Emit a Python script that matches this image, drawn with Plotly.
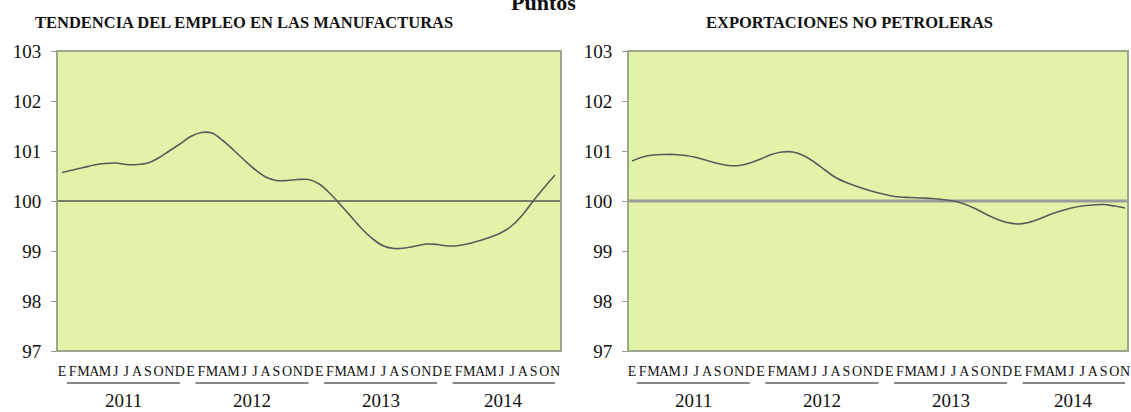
import plotly.graph_objects as go

# ---- data ----
months = list(range(47))  # Jan 2011 .. Nov 2014
month_letters = (list("EFMAMJJASOND") * 4)[:47]
years = ["2011", "2012", "2013", "2014"]
year_start = [0, 12, 24, 36]
year_end = [11, 23, 35, 46]

empleo = [100.57, 100.62, 100.67, 100.72, 100.75, 100.76, 100.73, 100.73, 100.76, 100.86,
          101.00, 101.14, 101.29, 101.37, 101.36, 101.21, 101.02, 100.82, 100.63, 100.48,
          100.41, 100.41, 100.43, 100.43, 100.34, 100.15, 99.92, 99.68, 99.44, 99.24,
          99.10, 99.05, 99.06, 99.10, 99.14, 99.13, 99.10, 99.11, 99.15, 99.21,
          99.28, 99.37, 99.51, 99.73, 100.01, 100.27, 100.52]

exportaciones = [100.80, 100.88, 100.92, 100.93, 100.93, 100.91, 100.87, 100.81, 100.75, 100.71,
                 100.71, 100.76, 100.84, 100.93, 100.98, 100.98, 100.91, 100.78, 100.62, 100.47,
                 100.37, 100.29, 100.22, 100.16, 100.11, 100.08, 100.07, 100.06, 100.05, 100.03,
                 100.00, 99.94, 99.85, 99.74, 99.64, 99.57, 99.54, 99.57, 99.64, 99.73,
                 99.80, 99.86, 99.90, 99.92, 99.93, 99.90, 99.86]

yticks = [97, 98, 99, 100, 101, 102, 103]
titles = ["TENDENCIA DEL EMPLEO EN LAS MANUFACTURAS", "EXPORTACIONES NO PETROLERAS"]
main_title = "Puntos"

# ---- style ----
W, H = 1131, 412
SERIF = "Liberation Serif"
BG = "#e1f3a9"
BORDER = "#9ba68c"
LINE = "#5a5a5a"

def px_x(p):
    return p / W

def px_y(p):
    return 1 - p / H

dom_y = [px_y(351), px_y(51)]
dom_x1 = [px_x(57), px_x(561)]
dom_x2 = [px_x(628), px_x(1128)]

fig = go.Figure()
fig.add_trace(go.Scatter(x=months, y=empleo, mode="lines", xaxis="x", yaxis="y",
                         line=dict(color=LINE, width=1.6, shape="spline", smoothing=1.0),
                         showlegend=False, hoverinfo="skip"))
fig.add_trace(go.Scatter(x=months, y=exportaciones, mode="lines", xaxis="x2", yaxis="y2",
                         line=dict(color=LINE, width=1.6, shape="spline", smoothing=1.0),
                         showlegend=False, hoverinfo="skip"))

xcommon = dict(tickmode="array", tickvals=months, ticktext=month_letters,
               tickfont=dict(family=SERIF, size=14, color="#111"),
               ticks="", showgrid=False, zeroline=False, showline=False,
               ticklabelstandoff=10, tickangle=0, fixedrange=True, automargin=False)
ycommon = dict(range=[97, 103], tickmode="array", tickvals=yticks,
               tickfont=dict(family=SERIF, size=19, color="#111"),
               ticks="outside", ticklen=5, tickcolor="#999999", tickwidth=1,
               ticklabelstandoff=6,
               showgrid=False, zeroline=False, showline=False, fixedrange=True,
               automargin=False)

fig.update_layout(
    width=W, height=H, autosize=False,
    margin=dict(l=0, r=0, t=0, b=0, pad=0, autoexpand=False),
    paper_bgcolor="white", plot_bgcolor=BG,
    xaxis=dict(domain=dom_x1, range=[-0.47, 46.56], anchor="y", **xcommon),
    yaxis=dict(domain=dom_y, anchor="x", **ycommon),
    xaxis2=dict(domain=dom_x2, range=[-0.37, 46.28], anchor="y2", **xcommon),
    yaxis2=dict(domain=dom_y, anchor="x2", **ycommon),
)

shapes = []
# reference lines at 100
shapes.append(dict(type="line", xref="x domain", yref="y", x0=0, x1=1, y0=100, y1=100,
                   line=dict(color="#555555", width=1.3), layer="below"))
shapes.append(dict(type="line", xref="x2 domain", yref="y2", x0=0, x1=1, y0=100, y1=100,
                   line=dict(color="#9a9a9a", width=3), layer="below"))
# plot borders
for xr, yr in [("x domain", "y domain"), ("x2 domain", "y2 domain")]:
    shapes.append(dict(type="rect", xref=xr, yref=yr, x0=0, x1=1, y0=0, y1=1,
                       line=dict(color=BORDER, width=2), fillcolor="rgba(0,0,0,0)"))
# year underlines
for xa in ["x", "x2"]:
    for s, e in zip(year_start, year_end):
        shapes.append(dict(type="line", xref=xa, yref="paper", x0=s + 0.45, x1=e,
                           y0=px_y(383), y1=px_y(383), line=dict(color="#111", width=1)))
fig.update_layout(shapes=shapes)

ann = []
for xa in ["x", "x2"]:
    for yl, s, e in zip(years, year_start, year_end):
        ann.append(dict(text=yl, xref=xa, yref="paper", x=(s + 0.45 + e) / 2, y=px_y(400),
                        showarrow=False, xanchor="center", yanchor="middle",
                        font=dict(family=SERIF, size=19, color="#111")))
ann.append(dict(text="<b>" + titles[0] + "</b>", xref="paper", yref="paper",
                x=px_x(244), y=px_y(23), showarrow=False, xanchor="center", yanchor="middle",
                font=dict(family=SERIF, size=16.5, color="#111")))
ann.append(dict(text="<b>" + titles[1] + "</b>", xref="paper", yref="paper",
                x=px_x(850), y=px_y(23), showarrow=False, xanchor="center", yanchor="middle",
                font=dict(family=SERIF, size=16.5, color="#111")))
ann.append(dict(text="<b>" + main_title + "</b>", xref="paper", yref="paper",
                x=px_x(543), y=px_y(3), showarrow=False, xanchor="center", yanchor="middle",
                font=dict(family=SERIF, size=22, color="#111")))
fig.update_layout(annotations=ann)

fig.write_html("out.html", include_plotlyjs=True, config={"displayModeBar": False})
